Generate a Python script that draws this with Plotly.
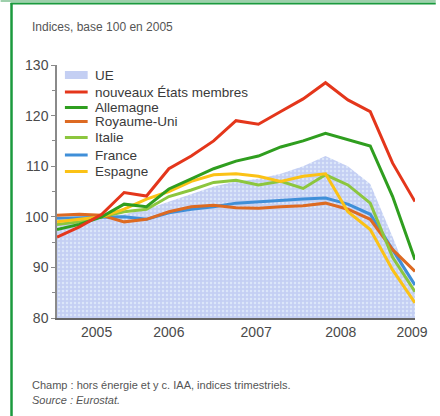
import plotly.graph_objects as go

quarters = ["2005T1","2005T2","2005T3","2005T4","2006T1","2006T2","2006T3","2006T4",
            "2007T1","2007T2","2007T3","2007T4","2008T1","2008T2","2008T3","2008T4","2009T1"]
ue        = [98.5, 99.0, 100.0, 100.5, 101.5, 103.0, 104.5, 106.0, 107.0, 107.5, 108.5, 110.0, 112.0, 110.0, 106.5, 96.0, 85.0]
nouveaux  = [96.0, 98.0, 100.5, 104.8, 104.1, 109.5, 112.0, 115.0, 119.0, 118.3, 120.8, 123.3, 126.5, 123.1, 120.8, 110.6, 103.0]
allemagne = [97.5, 98.5, 100.0, 102.5, 102.0, 105.5, 107.5, 109.5, 111.0, 112.0, 113.8, 115.0, 116.5, 115.3, 114.0, 104.0, 91.5]
royaume   = [100.3, 100.5, 100.3, 99.0, 99.5, 101.0, 102.0, 102.3, 101.8, 101.7, 102.0, 102.2, 102.7, 101.5, 99.5, 93.5, 89.2]
italie    = [98.5, 99.0, 100.0, 101.0, 101.5, 104.0, 105.3, 106.8, 107.2, 106.3, 107.0, 105.6, 108.3, 106.3, 102.7, 92.0, 85.2]
france    = [99.7, 99.8, 100.0, 100.0, 99.5, 100.8, 101.5, 102.0, 102.7, 103.0, 103.3, 103.5, 103.7, 102.5, 100.5, 93.5, 86.5]
espagne   = [99.0, 99.5, 100.0, 101.5, 103.5, 105.0, 107.0, 108.3, 108.5, 108.0, 107.0, 108.0, 108.5, 101.0, 97.5, 89.5, 83.0]

year_labels = ["2005", "2006", "2007", "2008", "2009"]
year_label_pos = [1.77, 5.0, 8.9, 12.68, 15.87]

x = list(range(len(quarters)))

W, H = 440, 416
ML, MR, MT, MB = 57, 21, 65, 98
PW, PH = W - ML - MR, H - MT - MB

def px(v):
    return (v - ML) / PW

def py(v):
    return (H - MB - v) / PH

FONT = "Liberation Sans, Arial, sans-serif"
UE_BG = "#c4cff3"

fig = go.Figure()
fig.add_trace(go.Scatter(
    x=x, y=ue, name="UE", mode="lines", line=dict(width=0, color=UE_BG),
    fill="tozeroy", fillcolor=UE_BG,
    fillpattern=dict(shape=".", bgcolor=UE_BG, fgcolor="#f2fbff", size=4, solidity=0.3),
    customdata=quarters, hovertemplate="%{customdata}: %{y}<extra>UE</extra>"))

series = [
    ("France", france, "#3f8fd8"),
    ("Royaume-Uni", royaume, "#dd6a22"),
    ("Italie", italie, "#8cc63e"),
    ("Espagne", espagne, "#fbc216"),
    ("Allemagne", allemagne, "#2f9e1f"),
    ("nouveaux États membres", nouveaux, "#e4361b"),
]
for name, vals, col in series:
    fig.add_trace(go.Scatter(
        x=x, y=vals, name=name, mode="lines", line=dict(width=3, color=col),
        customdata=quarters, hovertemplate="%{customdata}: %{y}<extra>" + name + "</extra>"))

shapes = []
annotations = []

# manual legend
legend_items = [
    ("UE", None, 75),
    ("nouveaux États membres", "#e4361b", 92),
    ("Allemagne", "#2f9e1f", 107.5),
    ("Royaume-Uni", "#dd6a22", 121.5),
    ("Italie", "#8cc63e", 137.5),
    ("France", "#3f8fd8", 155),
    ("Espagne", "#fbc216", 171.5),
]
for label, col, yc in legend_items:
    if col is None:
        shapes.append(dict(type="rect", xref="paper", yref="paper",
                           x0=px(65), x1=px(88), y0=py(yc + 4), y1=py(yc - 4),
                           fillcolor=UE_BG, line=dict(width=0)))
    else:
        shapes.append(dict(type="line", xref="paper", yref="paper",
                           x0=px(65), x1=px(88), y0=py(yc), y1=py(yc),
                           line=dict(color=col, width=3)))
    annotations.append(dict(text=label, xref="paper", yref="paper", x=px(93), y=py(yc),
                            xanchor="left", yanchor="middle", showarrow=False,
                            font=dict(family=FONT, size=13.5, color="#3a3a3a")))

# frame (green border)
shapes.append(dict(type="line", xref="paper", yref="paper", x0=px(11), x1=px(11),
                   y0=py(3), y1=py(416), line=dict(color="#1b9a3e", width=2.5)))
shapes.append(dict(type="line", xref="paper", yref="paper", x0=px(10), x1=px(440),
                   y0=py(3.5), y1=py(3.5), line=dict(color="#1b9a3e", width=2)))
shapes.append(dict(type="rect", xref="paper", yref="paper", x0=px(0), x1=px(440),
                   y0=py(0), y1=py(2), fillcolor="rgba(40,150,70,0.45)", line=dict(width=0)))

annotations.append(dict(text="Indices, base 100 en 2005", xref="paper", yref="paper",
                        x=px(30), y=py(27), xanchor="left", yanchor="middle", showarrow=False,
                        font=dict(family=FONT, size=12, color="#555555")))
annotations.append(dict(text="Champ : hors énergie et y c. IAA, indices trimestriels.",
                        xref="paper", yref="paper", x=px(30), y=py(385), xanchor="left",
                        yanchor="middle", showarrow=False,
                        font=dict(family=FONT, size=11, color="#555555")))
annotations.append(dict(text="<i>Source : Eurostat.</i>",
                        xref="paper", yref="paper", x=px(30), y=py(400), xanchor="left",
                        yanchor="middle", showarrow=False,
                        font=dict(family=FONT, size=11, color="#555555")))

fig.update_layout(
    width=W, height=H, margin=dict(l=ML, r=MR, t=MT, b=MB),
    paper_bgcolor="white", plot_bgcolor="white", showlegend=False,
    shapes=shapes, annotations=annotations,
    font=dict(family=FONT, color="#444444"),
)
fig.update_xaxes(range=[0, 16], showgrid=False, zeroline=False, showline=True,
                 linecolor="#666666", linewidth=2, tickmode="array",
                 tickvals=year_label_pos, ticktext=year_labels, ticks="",
                 tickfont=dict(family=FONT, size=14, color="#4a4a4a"))
fig.update_yaxes(range=[80, 130], showgrid=False, zeroline=False, showline=True,
                 linecolor="#8a8a8a", linewidth=1.5, tickvals=[80, 90, 100, 110, 120, 130],
                 ticks="outside", ticklen=4, tickcolor="#8a8a8a",
                 minor=dict(tickvals=[85, 95, 105, 115, 125], ticks="outside", ticklen=3, tickcolor="#8a8a8a"),
                 tickfont=dict(family=FONT, size=14, color="#4a4a4a"))

fig.write_html("out.html", config={"displayModeBar": False},
               post_script="document.body.style.margin='0';document.body.style.overflow='hidden';")
